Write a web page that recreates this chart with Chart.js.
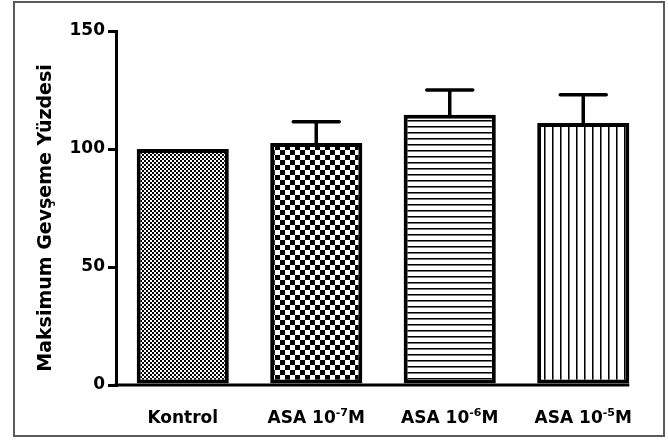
<!DOCTYPE html>
<html>
<head>
<meta charset="utf-8">
<script src="https://cdn.jsdelivr.net/npm/chart.js@4/dist/chart.umd.min.js"></script>
<style>
  html, body { margin: 0; padding: 0; background: #fff; }
  #wrap { width: 668px; height: 440px; }
</style>
</head>
<body>
<div id="wrap"><canvas id="c" width="668" height="440"></canvas></div>
<script>
// Groups on the x axis ("^" marks the exponent printed as superscript)
const categories = ['Kontrol', 'ASA 10^-7M', 'ASA 10^-6M', 'ASA 10^-5M'];
// Mean maximal relaxation (%) and its error (SEM)
const relaxation = [100, 102.5, 114.5, 111];
const relaxationErr = [0, 9, 10.5, 12];
// Y axis ticks
const yTicks = [0, 50, 100, 150];
const yTitle = 'Maksimum Gevşeme Yüzdesi';

const FONT = '"DejaVu Sans", "Liberation Sans", sans-serif';

// Fill patterns for the four bars
function makePattern(kind) {
  const c = document.createElement('canvas');
  const g = c.getContext('2d');
  if (kind === 'fineChecker') {
    c.width = 4; c.height = 4;
    g.fillStyle = '#fff'; g.fillRect(0, 0, 4, 4);
    g.fillStyle = '#000';
    g.fillRect(0, 0, 2, 2); g.fillRect(2, 2, 2, 2);
  } else if (kind === 'checker') {
    c.width = 10; c.height = 10;
    g.fillStyle = '#fff'; g.fillRect(0, 0, 10, 10);
    g.fillStyle = '#000';
    g.fillRect(0, 0, 5, 5); g.fillRect(5, 5, 5, 5);
  } else if (kind === 'hlines') {
    c.width = 6; c.height = 6;
    g.fillStyle = '#fff'; g.fillRect(0, 0, 6, 6);
    g.fillStyle = '#000'; g.fillRect(0, 0, 6, 1);
    g.fillStyle = '#777'; g.fillRect(0, 1, 6, 1);
  } else {
    c.width = 8; c.height = 8;
    g.fillStyle = '#fff'; g.fillRect(0, 0, 8, 8);
    g.fillStyle = '#000'; g.fillRect(0, 0, 1, 8);
    g.fillStyle = '#777'; g.fillRect(1, 0, 1, 8);
  }
  return g.createPattern(c, 'repeat');
}
const fills = ['fineChecker', 'checker', 'hlines', 'vlines'].map(makePattern);

// Outer frame around the whole figure
const framePlugin = {
  id: 'frame',
  afterDraw(chart) {
    const ctx = chart.ctx;
    ctx.save();
    ctx.strokeStyle = '#5a5a5a';
    ctx.lineWidth = 2;
    ctx.strokeRect(14, 2, 650, 434);
    ctx.restore();
  }
};

// Error bars (T shape above each bar), x axis line, category labels, y title
const decorPlugin = {
  id: 'decor',
  afterDatasetsDraw(chart) {
    const ctx = chart.ctx;
    const y = chart.scales.y;
    const meta = chart.getDatasetMeta(0);
    const area = chart.chartArea;
    ctx.save();
    ctx.strokeStyle = '#000';
    ctx.lineCap = 'round';
    ctx.lineWidth = 3.5;
    meta.data.forEach((bar, i) => {
      const err = relaxationErr[i];
      if (!err) return;
      const yTop = y.getPixelForValue(relaxation[i] + err);
      ctx.beginPath();
      ctx.moveTo(bar.x, bar.y);
      ctx.lineTo(bar.x, yTop);
      ctx.moveTo(bar.x - 23, yTop);
      ctx.lineTo(bar.x + 23, yTop);
      ctx.stroke();
    });
    // x axis line, running up to the right edge of the last bar
    const last = meta.data[meta.data.length - 1];
    const y0 = y.getPixelForValue(0);
    ctx.lineCap = 'butt';
    ctx.lineWidth = 3;
    ctx.beginPath();
    ctx.moveTo(area.left - 1.5, y0);
    ctx.lineTo(last.x + last.width / 2, y0);
    ctx.stroke();

    // category labels with superscript exponents
    const x = chart.scales.x;
    ctx.fillStyle = '#000';
    ctx.textBaseline = 'alphabetic';
    const mainFont = 'bold 17px ' + FONT;
    const supFont = 'bold 11px ' + FONT;
    categories.forEach((lab, i) => {
      const cx = x.getPixelForValue(i);
      const m = lab.match(/^(.*)\^(-?\d+)(.*)$/);
      const parts = m ? [[m[1], mainFont, 0], [m[2], supFont, -7], [m[3], mainFont, 0]]
                      : [[lab, mainFont, 0]];
      let w = 0;
      parts.forEach(p => { ctx.font = p[1]; w += ctx.measureText(p[0]).width; });
      let px = cx - w / 2;
      const base = y0 + 38;
      parts.forEach(p => {
        ctx.font = p[1];
        ctx.textAlign = 'left';
        ctx.fillText(p[0], px, base + p[2]);
        px += ctx.measureText(p[0]).width;
      });
    });

    // rotated y axis title
    ctx.save();
    ctx.translate(46, 218);
    ctx.rotate(-Math.PI / 2);
    ctx.font = 'bold 19px ' + FONT;
    ctx.textAlign = 'center';
    ctx.textBaseline = 'middle';
    ctx.fillText(yTitle, 0, 0);
    ctx.restore();
    ctx.restore();
  }
};

new Chart(document.getElementById('c'), {
  type: 'bar',
  data: {
    labels: categories,
    datasets: [{
      data: relaxation,
      backgroundColor: fills,
      borderColor: '#000',
      borderWidth: 4,
      borderSkipped: false,
      barPercentage: 0.69,
      categoryPercentage: 1.0
    }]
  },
  options: {
    responsive: false,
    animation: false,
    devicePixelRatio: 1,
    layout: { padding: { top: 31, right: 18, bottom: 0, left: 0 } },
    plugins: { legend: { display: false }, tooltip: { enabled: false } },
    scales: {
      x: {
        ticks: { display: false },
        grid: { display: false },
        border: { display: false },
        afterFit(scale) { scale.height = 55; }
      },
      y: {
        min: 0,
        max: 150,
        afterBuildTicks(scale) { scale.ticks = yTicks.map(v => ({ value: v })); },
        ticks: {
          color: '#000',
          padding: 3,
          font: { family: FONT, size: 17, weight: 'bold' }
        },
        grid: {
          drawOnChartArea: false,
          drawTicks: true,
          tickLength: 8,
          tickColor: '#000',
          lineWidth: 3
        },
        border: { display: true, color: '#000', width: 3 },
        afterFit(scale) { scale.width = 116; }
      }
    }
  },
  plugins: [decorPlugin, framePlugin]
});
</script>
</body>
</html>
